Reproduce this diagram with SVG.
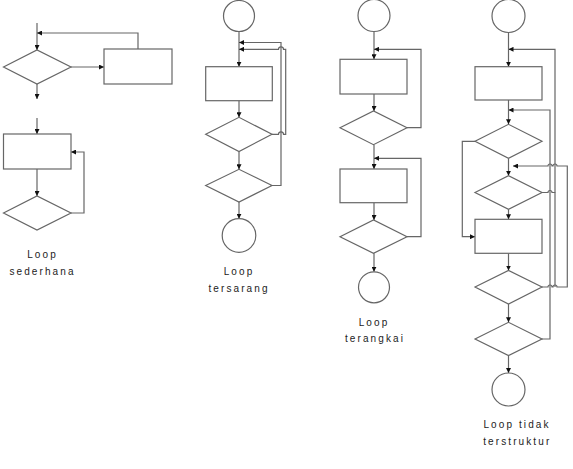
<svg xmlns="http://www.w3.org/2000/svg" width="573" height="469" viewBox="0 0 573 469">
<defs>
<marker id="ah" viewBox="0 0 10 10" refX="10" refY="5" markerWidth="5" markerHeight="5" markerUnits="userSpaceOnUse" orient="auto">
<path d="M0,0 L10,5 L0,10 Z" fill="#111"/>
</marker>
<style>
.s{fill:#fff;stroke:#666;stroke-width:1.2}
.c{fill:none;stroke:#666;stroke-width:1.2}
.a{marker-end:url(#ah)}
.t{font-family:"Liberation Sans",Arial,sans-serif;font-size:10px;letter-spacing:2.1px;fill:#222;text-anchor:middle}
</style>
</defs>
<rect width="573" height="469" fill="#fff"/>

<g id="connectors">
<!-- column 1 -->
<path class="c a" d="M37,23 V50"/>
<path class="c a" d="M138,49 V33 H37"/>
<path class="c a" d="M71,67 H104"/>
<path class="c a" d="M37,84 V99"/>
<path class="c a" d="M37,118 V134"/>
<path class="c a" d="M37,169 V196"/>
<path class="c a" d="M71,213 H84 V152 H71"/>
<!-- column 2 -->
<path class="c a" d="M239,31.5 V66.7"/>
<path class="c a" d="M239,100.7 V117.3"/>
<path class="c a" d="M239,151.5 V169.3"/>
<path class="c a" d="M239,202 V218.7"/>
<path class="c a" d="M272,185.5 H281 V42.5 H239"/>
<path class="c a" d="M272,134.3 H278.5 A2.5,2.5 0 0 1 283.5,134.3 H285.7 V49.3 H283.5 A2.5,2.5 0 0 0 278.5,49.3 H239"/>
<!-- column 3 -->
<path class="c a" d="M374,31.5 V59.3"/>
<path class="c a" d="M374,94 V111"/>
<path class="c a" d="M407,127.7 H421 V49.3 H374"/>
<path class="c a" d="M374,144.7 V169"/>
<path class="c a" d="M374,202.7 V220"/>
<path class="c a" d="M407,236.7 H421 V158.3 H374"/>
<path class="c a" d="M374,253.3 V271.8"/>
<!-- column 4 -->
<path class="c a" d="M508.5,32.5 V66.7"/>
<path class="c a" d="M508.5,100 V124.3"/>
<path class="c a" d="M508.5,158.3 V175.7"/>
<path class="c a" d="M508.5,209.3 V219.3"/>
<path class="c a" d="M508.5,253.3 V270.5"/>
<path class="c a" d="M508.5,304 V322.3"/>
<path class="c a" d="M508.5,355.5 V373"/>
<path class="c a" d="M475,141.3 H462.3 V236.7 H475"/>
<path class="c a" d="M542,339 H550 V110 H508.5"/>
<path class="c a" d="M542,192.5 H548 A2,2 0 0 1 552,192.5 H555 V49.3 H508.5"/>
<path class="c" d="M555,192.5 V287"/>
<path class="c a" d="M542,287 H548 A2,2 0 0 1 552,287 H553 A2,2 0 0 1 557,287 H567.3 V166 H557 A2,2 0 0 0 553,166 H552 A2,2 0 0 0 548,166 H513"/>
</g>

<g id="c1-decision1"><polygon class="s" points="3.5,67 37,50 71,67 37,84"/></g>
<g id="c1-process1"><rect class="s" x="104" y="49" width="68" height="35"/></g>
<g id="c1-process2"><rect class="s" x="3.5" y="134" width="67.5" height="35"/></g>
<g id="c1-decision2"><polygon class="s" points="3.5,213 37,196 71,213 37,230"/></g>
<g id="c1-label"><text class="t" x="42.5" y="257.7">Loop</text><text class="t" x="42.5" y="275">sederhana</text></g>

<g id="c2-start"><circle class="s" cx="239" cy="16" r="15.5"/></g>
<g id="c2-process"><rect class="s" x="205.7" y="66.7" width="66.6" height="34"/></g>
<g id="c2-decision1"><polygon class="s" points="205.7,134.3 239,117.3 272,134.3 239,151.5"/></g>
<g id="c2-decision2"><polygon class="s" points="205.7,185.5 239,169.3 272,185.5 239,202"/></g>
<g id="c2-end"><circle class="s" cx="239" cy="235.5" r="16.8"/></g>
<g id="c2-label"><text class="t" x="239" y="275">Loop</text><text class="t" x="239" y="291.7">tersarang</text></g>

<g id="c3-start"><circle class="s" cx="374" cy="15.5" r="16"/></g>
<g id="c3-process1"><rect class="s" x="340" y="59.3" width="67" height="34.7"/></g>
<g id="c3-decision1"><polygon class="s" points="340,127.7 373.5,111 407,127.7 373.5,144.7"/></g>
<g id="c3-process2"><rect class="s" x="340" y="169" width="67" height="33.7"/></g>
<g id="c3-decision2"><polygon class="s" points="340,236.7 373.5,220 407,236.7 373.5,253.3"/></g>
<g id="c3-end"><circle class="s" cx="374" cy="287.3" r="15.5"/></g>
<g id="c3-label"><text class="t" x="374" y="325.7">Loop</text><text class="t" x="375" y="342.3">terangkai</text></g>

<g id="c4-start"><circle class="s" cx="508.5" cy="16" r="16.5"/></g>
<g id="c4-process1"><rect class="s" x="475" y="66.7" width="67" height="33.3"/></g>
<g id="c4-decision1"><polygon class="s" points="475,141.3 508.5,124.3 542,141.3 508.5,158.3"/></g>
<g id="c4-decision2"><polygon class="s" points="475,192.5 508.5,175.7 542,192.5 508.5,209.3"/></g>
<g id="c4-process2"><rect class="s" x="475" y="219.3" width="67" height="34"/></g>
<g id="c4-decision3"><polygon class="s" points="475,287 508.5,270.5 542,287 508.5,304"/></g>
<g id="c4-decision4"><polygon class="s" points="475,339 508.5,322.3 542,339 508.5,355.5"/></g>
<g id="c4-end"><circle class="s" cx="508.5" cy="389.5" r="16.5"/></g>
<g id="c4-label"><text class="t" x="517" y="427.7">Loop tidak</text><text class="t" x="517.3" y="445">terstruktur</text></g>
</svg>
